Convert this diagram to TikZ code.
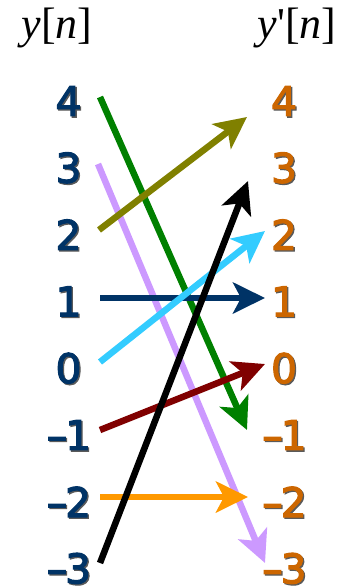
\documentclass[tikz,border=0pt]{standalone}
\usepackage{fontspec}
\usepackage{graphicx}
\usetikzlibrary{arrows.meta}
\newfontfamily\numfont{DejaVu Sans}[FakeBold=2.5]
\newfontfamily\hdrfont{Liberation Serif}[Ligatures=TeXOff]
\newcommand\minussign{\scalebox{1.5}[1]{-}\kern-3pt}
\definecolor{lnum}{HTML}{003366}
\definecolor{rnum}{HTML}{CC6600}
\definecolor{shad}{HTML}{5A5A5A}
\definecolor{cgreen}{HTML}{008000}
\definecolor{colive}{HTML}{808000}
\definecolor{clilac}{HTML}{CC99FF}
\definecolor{ccyan}{HTML}{33CCFF}
\definecolor{cnavy}{HTML}{003366}
\definecolor{cred}{HTML}{800000}
\definecolor{corange}{HTML}{FF9900}
\tikzset{
  numtxt/.style={font=\numfont\fontsize{41}{41}\selectfont, inner sep=0pt, anchor=center},
  lnumber/.style={numtxt, text=lnum},
  rnumber/.style={numtxt, text=rnum},
  shadow/.style={numtxt, text=shad},
  hdr/.style={font=\hdrfont\fontsize{44}{44}\selectfont, inner sep=0pt, anchor=center},
  conn/.style={line width=6.5pt, -{Stealth[length=32pt,width=31pt,inset=8pt]}}
}
\begin{document}
\begin{tikzpicture}[x=1pt,y=-1pt]
\useasboundingbox (0,0) rectangle (360,587);
\node[hdr] (hl) at (57,28) {\textit{y}[\textit{n}]};
\node[hdr] (hr) at (297,28) {\textit{y}'[\textit{n}]};
% numbers
\foreach \v/\nm/\yy in {4/4/101, 3/3/167.8, 2/2/234.6, 1/1/301.4, 0/0/368.2, \minussign1/m1/435, \minussign2/m2/501.8, \minussign3/m3/568.4}{
  \node[shadow] (sl\nm) at (69.8,\yy+1.3) {\v};
  \node[lnumber] (L\nm) at (68.5,\yy) {\v};
  \node[shadow] (sr\nm) at (285.3,\yy+1.3) {\v};
  \node[rnumber] (R\nm) at (284,\yy) {\v};
}
% arrow end points
\coordinate (g1) at (100,97);   \coordinate (g2) at (247,430);
\coordinate (l1) at (98,164);   \coordinate (l2) at (265,563);
\coordinate (n1) at (100,298);  \coordinate (n2) at (265,298);
\coordinate (c1) at (100,362);  \coordinate (c2) at (265,231);
\coordinate (o1) at (99,230);   \coordinate (o2) at (247,117);
\coordinate (r1) at (100,430);  \coordinate (r2) at (265,364);
\coordinate (a1) at (100,497);  \coordinate (a2) at (248,497);
\coordinate (k1) at (100,563);  \coordinate (k2) at (248,181);
\draw[conn, cgreen] (g1) -- (g2);
\draw[conn, clilac] (l1) -- (l2);
\draw[conn, cnavy] (n1) -- (n2);
\draw[conn, ccyan] (c1) -- (c2);
\draw[conn, colive] (o1) -- (o2);
\draw[conn, cred] (r1) -- (r2);
\draw[conn, corange] (a1) -- (a2);
\draw[conn, black] (k1) -- (k2);
\end{tikzpicture}
\end{document}
